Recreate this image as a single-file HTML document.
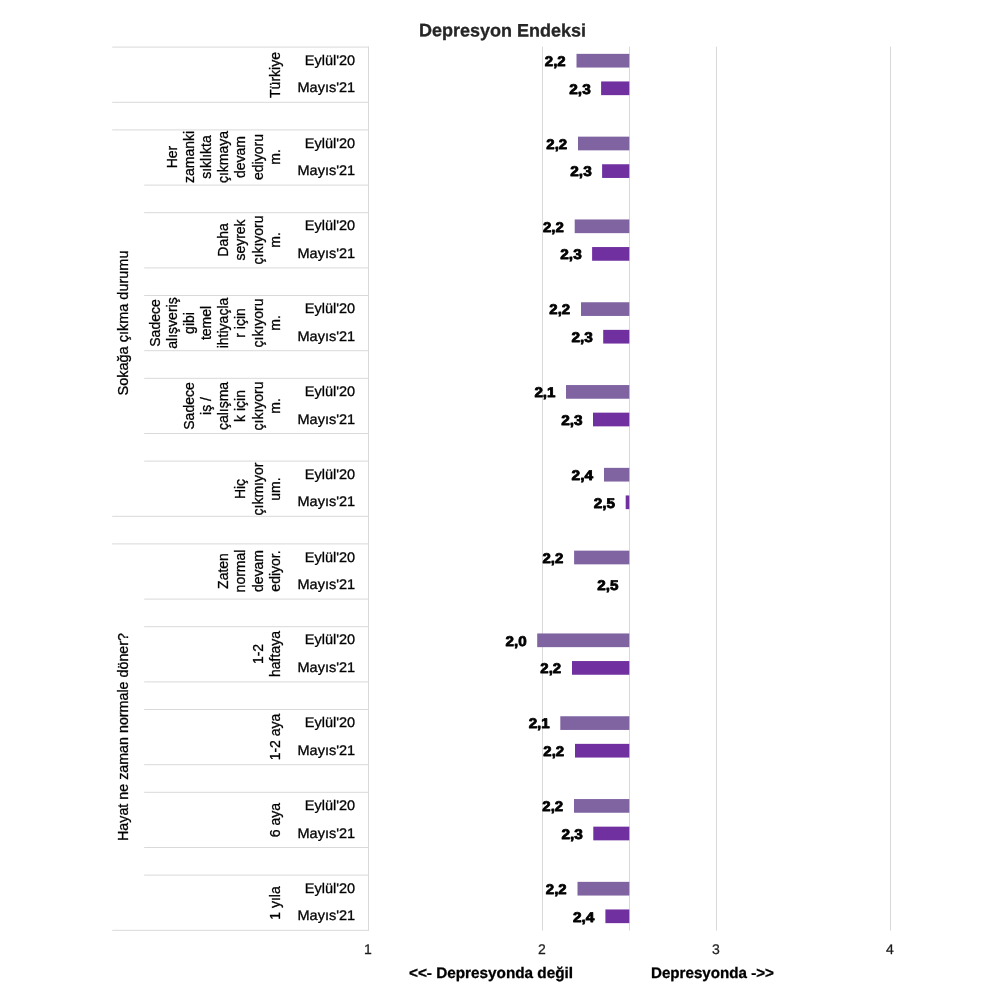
<!DOCTYPE html>
<html><head><meta charset="utf-8"><title>Depresyon Endeksi</title>
<style>
html,body{margin:0;padding:0;background:#fff;}
body{will-change:transform;width:1000px;height:1000px;position:relative;overflow:hidden;font-family:"Liberation Sans",sans-serif;color:#000;}
.a{position:absolute;}
.t{position:absolute;white-space:nowrap;line-height:1;}
.r{position:absolute;white-space:nowrap;line-height:1;font-size:14px;-webkit-text-stroke:0.3px #000;transform:translate(-50%,-50%) rotate(-90deg);}
.ax{position:absolute;white-space:nowrap;line-height:1;font-size:14px;-webkit-text-stroke:0.25px #1a1a1a;transform:translate(-50%,-50%) rotate(0.03deg);color:#1a1a1a;}
</style></head><body>

<div class="t" style="left:419.3px;top:21px;transform:translateY(0.4px) rotate(0.03deg);font-size:18px;font-weight:bold;color:#262626;-webkit-text-stroke:0.3px #262626;">Depresyon Endeksi</div>
<svg class="a" style="left:0;top:0;" width="1000" height="1000" viewBox="0 0 1000 1000">
<g stroke="#d9d9d9" stroke-width="1" fill="none">
<line x1="368.50" y1="46.6" x2="368.50" y2="930.6"/>
<line x1="542.50" y1="46.6" x2="542.50" y2="930.6"/>
<line x1="716.50" y1="46.6" x2="716.50" y2="930.6"/>
<line x1="890.50" y1="46.6" x2="890.50" y2="930.6"/>
<line x1="629.50" y1="46.6" x2="629.50" y2="930.6"/>
<line x1="112.2" y1="47.10" x2="369" y2="47.10"/>
<line x1="112.2" y1="102.30" x2="369" y2="102.30"/>
<line x1="112.2" y1="129.90" x2="369" y2="129.90"/>
<line x1="144.2" y1="185.10" x2="369" y2="185.10"/>
<line x1="144.2" y1="212.70" x2="369" y2="212.70"/>
<line x1="144.2" y1="267.90" x2="369" y2="267.90"/>
<line x1="144.2" y1="295.50" x2="369" y2="295.50"/>
<line x1="144.2" y1="350.70" x2="369" y2="350.70"/>
<line x1="144.2" y1="378.30" x2="369" y2="378.30"/>
<line x1="144.2" y1="433.50" x2="369" y2="433.50"/>
<line x1="144.2" y1="461.10" x2="369" y2="461.10"/>
<line x1="112.2" y1="516.30" x2="369" y2="516.30"/>
<line x1="112.2" y1="543.90" x2="369" y2="543.90"/>
<line x1="144.2" y1="599.10" x2="369" y2="599.10"/>
<line x1="144.2" y1="626.70" x2="369" y2="626.70"/>
<line x1="144.2" y1="681.90" x2="369" y2="681.90"/>
<line x1="144.2" y1="709.50" x2="369" y2="709.50"/>
<line x1="144.2" y1="764.70" x2="369" y2="764.70"/>
<line x1="144.2" y1="792.30" x2="369" y2="792.30"/>
<line x1="144.2" y1="847.50" x2="369" y2="847.50"/>
<line x1="144.2" y1="875.10" x2="369" y2="875.10"/>
<line x1="112.2" y1="930.30" x2="369" y2="930.30"/>
</g>
<rect x="576.5" y="53.85" width="52.8" height="13.7" fill="#8064a2"/>
<rect x="601.1" y="81.45" width="28.2" height="13.7" fill="#7030a0"/>
<rect x="578.0" y="136.65" width="51.3" height="13.7" fill="#8064a2"/>
<rect x="602.1" y="164.25" width="27.2" height="13.7" fill="#7030a0"/>
<rect x="574.7" y="219.45" width="54.6" height="13.7" fill="#8064a2"/>
<rect x="592.1" y="247.05" width="37.2" height="13.7" fill="#7030a0"/>
<rect x="581.0" y="302.25" width="48.3" height="13.7" fill="#8064a2"/>
<rect x="603.2" y="329.85" width="26.1" height="13.7" fill="#7030a0"/>
<rect x="566.0" y="385.05" width="63.3" height="13.7" fill="#8064a2"/>
<rect x="593.0" y="412.65" width="36.3" height="13.7" fill="#7030a0"/>
<rect x="604.0" y="467.85" width="25.3" height="13.7" fill="#8064a2"/>
<rect x="625.7" y="495.45" width="3.6" height="13.7" fill="#7030a0"/>
<rect x="574.1" y="550.65" width="55.2" height="13.7" fill="#8064a2"/>
<rect x="537.2" y="633.45" width="92.1" height="13.7" fill="#8064a2"/>
<rect x="572.0" y="661.05" width="57.3" height="13.7" fill="#7030a0"/>
<rect x="560.3" y="716.25" width="69.0" height="13.7" fill="#8064a2"/>
<rect x="575.0" y="743.85" width="54.3" height="13.7" fill="#7030a0"/>
<rect x="574.0" y="799.05" width="55.3" height="13.7" fill="#8064a2"/>
<rect x="593.3" y="826.65" width="36.0" height="13.7" fill="#7030a0"/>
<rect x="577.5" y="881.85" width="51.8" height="13.7" fill="#8064a2"/>
<rect x="605.4" y="909.45" width="23.9" height="13.7" fill="#7030a0"/>
</svg>
<div class="r" style="left:274.6px;top:74.6px;">Türkiye</div>
<div class="r" style="left:171.7px;top:157.4px;">Her</div>
<div class="r" style="left:188.9px;top:157.4px;">zamanki</div>
<div class="r" style="left:206.0px;top:157.4px;">sıklıkta</div>
<div class="r" style="left:223.2px;top:157.4px;">çıkmaya</div>
<div class="r" style="left:240.3px;top:157.4px;">devam</div>
<div class="r" style="left:257.5px;top:157.4px;">ediyoru</div>
<div class="r" style="left:274.6px;top:157.4px;">m.</div>
<div class="r" style="left:223.2px;top:240.2px;">Daha</div>
<div class="r" style="left:240.3px;top:240.2px;">seyrek</div>
<div class="r" style="left:257.5px;top:240.2px;">çıkıyoru</div>
<div class="r" style="left:274.6px;top:240.2px;">m.</div>
<div class="r" style="left:154.6px;top:323.0px;">Sadece</div>
<div class="r" style="left:171.7px;top:323.0px;">alışveriş</div>
<div class="r" style="left:188.9px;top:323.0px;">gibi</div>
<div class="r" style="left:206.0px;top:323.0px;">temel</div>
<div class="r" style="left:223.2px;top:323.0px;">ihtiyaçla</div>
<div class="r" style="left:240.3px;top:323.0px;">r için</div>
<div class="r" style="left:257.5px;top:323.0px;">çıkıyoru</div>
<div class="r" style="left:274.6px;top:323.0px;">m.</div>
<div class="r" style="left:188.9px;top:405.8px;">Sadece</div>
<div class="r" style="left:206.0px;top:405.8px;">iş /</div>
<div class="r" style="left:223.2px;top:405.8px;">çalışma</div>
<div class="r" style="left:240.3px;top:405.8px;">k için</div>
<div class="r" style="left:257.5px;top:405.8px;">çıkıyoru</div>
<div class="r" style="left:274.6px;top:405.8px;">m.</div>
<div class="r" style="left:240.3px;top:488.6px;">Hiç</div>
<div class="r" style="left:257.5px;top:488.6px;">çıkmıyor</div>
<div class="r" style="left:274.6px;top:488.6px;">um.</div>
<div class="r" style="left:223.2px;top:571.4px;">Zaten</div>
<div class="r" style="left:240.3px;top:571.4px;">normal</div>
<div class="r" style="left:257.5px;top:571.4px;">devam</div>
<div class="r" style="left:274.6px;top:571.4px;">ediyor.</div>
<div class="r" style="left:257.5px;top:654.2px;">1-2</div>
<div class="r" style="left:274.6px;top:654.2px;">haftaya</div>
<div class="r" style="left:274.6px;top:737.0px;">1-2 aya</div>
<div class="r" style="left:274.6px;top:819.8px;">6 aya</div>
<div class="r" style="left:274.6px;top:902.6px;">1 yıla</div>
<svg class="a" style="left:0;top:0;" width="1000" height="1000" viewBox="0 0 1000 1000"><g font-family="Liberation Sans, sans-serif" font-size="14" text-anchor="end" fill="#000" stroke="#000" stroke-width="0.3" text-rendering="geometricPrecision">
<text transform="translate(355.10,64.70) scale(1.036,1)">Eylül'20</text>
<text transform="translate(355.10,92.30) scale(1.036,1)">Mayıs'21</text>
<text transform="translate(355.10,147.50) scale(1.036,1)">Eylül'20</text>
<text transform="translate(355.10,175.10) scale(1.036,1)">Mayıs'21</text>
<text transform="translate(355.10,230.30) scale(1.036,1)">Eylül'20</text>
<text transform="translate(355.10,257.90) scale(1.036,1)">Mayıs'21</text>
<text transform="translate(355.10,313.10) scale(1.036,1)">Eylül'20</text>
<text transform="translate(355.10,340.70) scale(1.036,1)">Mayıs'21</text>
<text transform="translate(355.10,395.90) scale(1.036,1)">Eylül'20</text>
<text transform="translate(355.10,423.50) scale(1.036,1)">Mayıs'21</text>
<text transform="translate(355.10,478.70) scale(1.036,1)">Eylül'20</text>
<text transform="translate(355.10,506.30) scale(1.036,1)">Mayıs'21</text>
<text transform="translate(355.10,561.50) scale(1.036,1)">Eylül'20</text>
<text transform="translate(355.10,589.10) scale(1.036,1)">Mayıs'21</text>
<text transform="translate(355.10,644.30) scale(1.036,1)">Eylül'20</text>
<text transform="translate(355.10,671.90) scale(1.036,1)">Mayıs'21</text>
<text transform="translate(355.10,727.10) scale(1.036,1)">Eylül'20</text>
<text transform="translate(355.10,754.70) scale(1.036,1)">Mayıs'21</text>
<text transform="translate(355.10,809.90) scale(1.036,1)">Eylül'20</text>
<text transform="translate(355.10,837.50) scale(1.036,1)">Mayıs'21</text>
<text transform="translate(355.10,892.70) scale(1.036,1)">Eylül'20</text>
<text transform="translate(355.10,920.30) scale(1.036,1)">Mayıs'21</text>
</g></svg>
<div class="r" style="left:122.6px;top:323px;transform:translate(-50%,-50%) rotate(-90deg) scaleX(1.035);">Sokağa çıkma durumu</div>
<div class="r" style="left:122.6px;top:737px;transform:translate(-50%,-50%) rotate(-90deg) scaleX(1.02);">Hayat ne zaman normale döner?</div>
<svg class="a" style="left:0;top:0;" width="1000" height="1000" viewBox="0 0 1000 1000">
<g font-family="Liberation Sans, sans-serif" font-weight="bold" font-size="14" text-anchor="end" fill="#000" stroke="#000" stroke-width="0.8" stroke-linejoin="round" text-rendering="geometricPrecision">
<text transform="translate(565.65,66.00) scale(1.070,1)">2,2</text>
<text transform="translate(590.70,93.60) scale(1.100,1)">2,3</text>
<text transform="translate(567.15,148.80) scale(1.070,1)">2,2</text>
<text transform="translate(591.70,176.40) scale(1.100,1)">2,3</text>
<text transform="translate(563.85,231.60) scale(1.070,1)">2,2</text>
<text transform="translate(581.70,259.20) scale(1.100,1)">2,3</text>
<text transform="translate(570.15,314.40) scale(1.070,1)">2,2</text>
<text transform="translate(592.80,342.00) scale(1.100,1)">2,3</text>
<text transform="translate(555.50,397.20) scale(1.085,1)">2,1</text>
<text transform="translate(582.60,424.80) scale(1.100,1)">2,3</text>
<text transform="translate(593.05,480.00) scale(1.105,1)">2,4</text>
<text transform="translate(614.90,507.60) scale(1.090,1)">2,5</text>
<text transform="translate(563.25,562.80) scale(1.070,1)">2,2</text>
<text transform="translate(618.50,590.40) scale(1.090,1)">2,5</text>
<text transform="translate(526.70,645.60) scale(1.085,1)">2,0</text>
<text transform="translate(561.15,673.20) scale(1.070,1)">2,2</text>
<text transform="translate(549.80,728.40) scale(1.085,1)">2,1</text>
<text transform="translate(564.15,756.00) scale(1.070,1)">2,2</text>
<text transform="translate(563.15,811.20) scale(1.070,1)">2,2</text>
<text transform="translate(582.90,838.80) scale(1.100,1)">2,3</text>
<text transform="translate(566.65,894.00) scale(1.070,1)">2,2</text>
<text transform="translate(594.45,921.60) scale(1.105,1)">2,4</text>
</g></svg>
<div class="ax" style="left:368.4px;top:949.15px;">1</div>
<div class="ax" style="left:542.4px;top:949.15px;">2</div>
<div class="ax" style="left:716.4px;top:949.15px;">3</div>
<div class="ax" style="left:890.4px;top:949.15px;">4</div>
<div class="t" style="left:408.5px;top:965.35px;font-size:15.3px;font-weight:bold;-webkit-text-stroke:0.3px #000;transform:rotate(0.03deg);">&lt;&lt;- Depresyonda değil</div>
<div class="t" style="left:651px;top:965.35px;font-size:15.3px;font-weight:bold;-webkit-text-stroke:0.3px #000;transform:rotate(0.03deg) scaleX(0.99);transform-origin:left center;">Depresyonda -&gt;&gt;</div>
</body></html>
